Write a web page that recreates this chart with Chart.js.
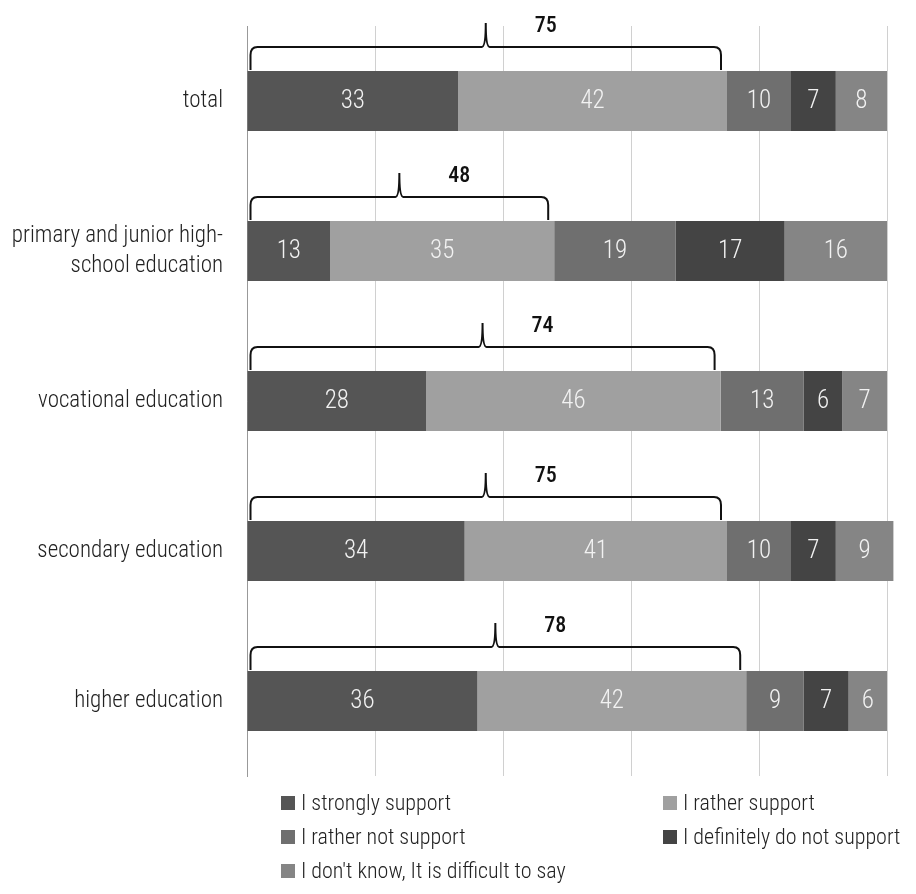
<!DOCTYPE html>
<html>
<head>
<meta charset="utf-8">
<script src="https://cdn.jsdelivr.net/npm/chart.js@4/dist/chart.umd.min.js"></script>
<style>
  html, body { margin: 0; padding: 0; background: #fff; }
  canvas { display: block; }
</style>
</head>
<body>
<canvas id="chart" width="916" height="894"></canvas>
<script>
const categories = ['total', ['primary and junior high-', 'school education'], 'vocational education', 'secondary education', 'higher education'];
const seriesNames = ['I strongly support', 'I rather support', 'I rather not support', 'I definitely do not support', "I don't know, It is difficult to say"];
const stronglySupport = [33, 13, 28, 34, 36];
const ratherSupport = [42, 35, 46, 41, 42];
const ratherNotSupport = [10, 19, 13, 10, 9];
const definitelyNotSupport = [7, 17, 6, 7, 7];
const dontKnow = [8, 16, 7, 9, 6];
const supportTotals = [75, 48, 74, 75, 78];

const colors = ['#555555', '#a0a0a0', '#6f6f6f', '#444444', '#858585'];
const FONT = '"Roboto Condensed", Roboto, sans-serif';

// value labels inside each segment
const valueLabels = {
  id: 'valueLabels',
  afterDatasetsDraw(chart) {
    const ctx = chart.ctx;
    ctx.save();
    ctx.font = '300 25px ' + FONT;
    ctx.fillStyle = '#f2f2f2';
    ctx.textAlign = 'center';
    ctx.textBaseline = 'middle';
    chart.data.datasets.forEach((ds, i) => {
      chart.getDatasetMeta(i).data.forEach((bar, j) => {
        ctx.fillText(ds.data[j], (bar.x + bar.base) / 2, bar.y + 1);
      });
    });
    ctx.restore();
  }
};

// curly brace over the two "support" segments
const braces = {
  id: 'braces',
  afterDatasetsDraw(chart) {
    const ctx = chart.ctx;
    const first = chart.getDatasetMeta(0).data;
    const second = chart.getDatasetMeta(1).data;
    ctx.save();
    ctx.strokeStyle = '#111';
    ctx.lineWidth = 2;
    second.forEach((bar, i) => {
      const top = bar.y - bar.height / 2;
      const x0 = first[i].base + 3;
      const x1 = bar.x - 6;
      const hY = top - 24;
      const tipY = top - 48;
      const tx = (x0 + x1) / 2;
      ctx.beginPath();
      ctx.moveTo(x0, top - 1);
      ctx.lineTo(x0, hY + 8);
      ctx.quadraticCurveTo(x0, hY, x0 + 7, hY);
      ctx.lineTo(tx - 4, hY);
      ctx.quadraticCurveTo(tx, hY, tx, tipY);
      ctx.quadraticCurveTo(tx, hY, tx + 4, hY);
      ctx.lineTo(x1 - 7, hY);
      ctx.quadraticCurveTo(x1, hY, x1, hY + 8);
      ctx.lineTo(x1, top - 1);
      ctx.stroke();

      ctx.font = '500 22px ' + FONT;
      ctx.fillStyle = '#111';
      ctx.textAlign = 'center';
      ctx.textBaseline = 'middle';
      ctx.fillText(supportTotals[i], tx + 60, tipY + 3);
    });
    ctx.restore();
  }
};

// two-column legend under the plot
const gridLegend = {
  id: 'gridLegend',
  afterDraw(chart) {
    const ctx = chart.ctx;
    const cols = [281, 663];
    const rows = [803, 837, 871];
    ctx.save();
    ctx.font = '300 22px ' + FONT;
    ctx.textBaseline = 'middle';
    ctx.textAlign = 'left';
    chart.data.datasets.forEach((ds, i) => {
      const x = cols[i % 2];
      const y = rows[Math.floor(i / 2)];
      ctx.fillStyle = ds.backgroundColor;
      ctx.fillRect(x, y - 7, 14, 14);
      ctx.fillStyle = '#222';
      ctx.fillText(ds.label, x + 20, y + 1);
    });
    ctx.restore();
  }
};

const seriesData = [stronglySupport, ratherSupport, ratherNotSupport, definitelyNotSupport, dontKnow];

new Chart(document.getElementById('chart'), {
  type: 'bar',
  data: {
    labels: categories,
    datasets: seriesData.map((d, i) => ({
      label: seriesNames[i],
      data: d,
      backgroundColor: colors[i],
      borderWidth: 0,
      barPercentage: 1,
      categoryPercentage: 0.4,
      clip: false
    }))
  },
  options: {
    indexAxis: 'y',
    responsive: false,
    devicePixelRatio: 1,
    animation: false,
    layout: {
      padding: { top: 26, right: 29, bottom: 118, left: 0 }
    },
    scales: {
      x: {
        stacked: true,
        min: 0,
        max: 100,
        ticks: { display: false, stepSize: 20 },
        grid: { color: '#d0d0d0', drawTicks: false },
        border: { display: false },
        afterFit(scale) { scale.height = 0; }
      },
      y: {
        stacked: true,
        ticks: {
          color: '#222',
          padding: 24,
          font: { family: FONT, size: 23, weight: '300', lineHeight: 1.3 }
        },
        grid: { display: false, drawTicks: false },
        border: { display: true, color: '#999' },
        afterFit(scale) {
          scale.width = 247;
          scale.paddingTop = 0;
          scale.paddingBottom = 0;
        }
      }
    },
    plugins: {
      legend: { display: false },
      tooltip: { enabled: false }
    }
  },
  plugins: [valueLabels, braces, gridLegend]
});
</script>
</body>
</html>
